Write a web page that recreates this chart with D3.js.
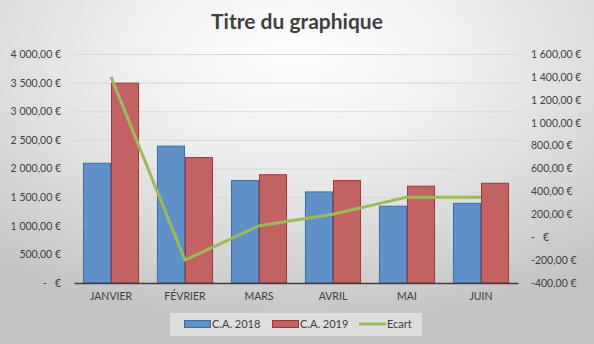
<!DOCTYPE html>
<html><head><meta charset="utf-8">
<script src="https://cdn.jsdelivr.net/npm/d3@7"></script>
<style>html,body{margin:0;padding:0;overflow:hidden;}svg{display:block;}</style>
</head><body>
<script>
const categories = ["JANVIER","FÉVRIER","MARS","AVRIL","MAI","JUIN"];
const series = ["C.A. 2018","C.A. 2019"];
const ca2018 = [2100,2400,1800,1600,1350,1400];
const ca2019 = [3500,2200,1900,1800,1700,1750];
const ecart = [1400,-200,100,200,350,350];
const leftTicks = [0,500,1000,1500,2000,2500,3000,3500,4000];
const rightTicks = [-400,-200,0,200,400,600,800,1000,1200,1400,1600];

(function(){
const W=594,H=344;
const svg=d3.select("body").append("svg").attr("width",W).attr("height",H);
const defs=svg.append("defs");
const rg=defs.append("radialGradient").attr("id","bg").attr("cx","50%").attr("cy","15%").attr("r","80%")
  .attr("gradientUnits","objectBoundingBox");
rg.append("stop").attr("offset","0%").attr("stop-color","#ffffff");
rg.append("stop").attr("offset","35%").attr("stop-color","#f0f0f0");
rg.append("stop").attr("offset","100%").attr("stop-color","#c4c4c4");
svg.append("rect").attr("width",W).attr("height",H).attr("fill","url(#bg)");

const font="Lato, 'Open Sans', sans-serif";
const textCol="#404040";
const pL=74,pR=518,pT=54,pB=283;

const x=d3.scaleBand().domain(categories).range([pL,pR]).padding(0);
const xs=d3.scaleBand().domain(series).range([0,x.bandwidth()]).paddingInner(0).paddingOuter(0.32);
const yL=d3.scaleLinear().domain([0,4000]).range([pB,pT]);
const yR=d3.scaleLinear().domain([-400,1600]).range([pB,pT]);

svg.append("text").attr("x",W/2).attr("y",29).attr("text-anchor","middle")
  .attr("font-family",font).attr("font-weight","bold").attr("font-size",21).attr("fill",textCol)
  .text("Titre du graphique");

svg.append("g").selectAll("line").data(leftTicks.filter(d=>d>0)).join("line")
  .attr("x1",pL).attr("x2",pR).attr("y1",d=>yL(d)+0.5).attr("y2",d=>yL(d)+0.5)
  .attr("stroke","#d9d9d9").attr("stroke-width",1);

const fmt=v=>{
  if(v===0) return "-\u00a0\u00a0\u00a0€";
  const s=d3.format(",.2f")(Math.abs(v)).replace(/,/g," ").replace(".",",");
  return (v<0?"-":"")+s+"\u00a0€";
};

const gl=svg.append("g").attr("transform",`translate(${pL},0)`)
  .call(d3.axisLeft(yL).tickValues(leftTicks).tickSize(0).tickPadding(13).tickFormat(fmt));
gl.select(".domain").remove();
gl.selectAll("text").attr("font-family",font).attr("font-size",10.5).attr("fill",textCol);

const gr=svg.append("g").attr("transform",`translate(${pR},0)`)
  .call(d3.axisRight(yR).tickValues(rightTicks).tickSize(0).tickPadding(13).tickFormat(fmt));
gr.select(".domain").remove();
gr.selectAll("text").attr("font-family",font).attr("font-size",10.5).attr("fill",textCol);

const data=categories.map((c,i)=>({c,vals:[{s:series[0],v:ca2018[i]},{s:series[1],v:ca2019[i]}]}));
const fills={"C.A. 2018":"#6090c8","C.A. 2019":"#c36262"};
const strokes={"C.A. 2018":"#3c6ea8","C.A. 2019":"#a53836"};
svg.append("g").selectAll("g").data(data).join("g")
  .attr("transform",d=>`translate(${x(d.c)},0)`)
  .selectAll("rect").data(d=>d.vals).join("rect")
  .attr("x",d=>xs(d.s)+0.5).attr("width",xs.bandwidth()-1)
  .attr("y",d=>yL(d.v)+0.5).attr("height",d=>yL(0)-yL(d.v)-0.5)
  .attr("fill",d=>fills[d.s]).attr("stroke",d=>strokes[d.s]).attr("stroke-width",1);

const gx=svg.append("g").attr("transform",`translate(0,${pB})`)
  .call(d3.axisBottom(x).tickSize(0).tickPadding(10));
gx.select(".domain").attr("stroke","#404040").attr("stroke-width",1.5);
gx.selectAll("text").attr("font-family",font).attr("font-size",10.5).attr("fill",textCol);

const line=d3.line().x((d,i)=>x(categories[i])+x.bandwidth()/2).y(d=>yR(d));
svg.append("path").datum(ecart).attr("d",line).attr("fill","none")
  .attr("stroke","#9bbb59").attr("stroke-width",3).attr("stroke-linejoin","round");

const lg=svg.append("g");
lg.append("rect").attr("x",170).attr("y",313).attr("width",252).attr("height",23).attr("fill","#e4e4e4").attr("opacity",0.8);
const items=[{n:"C.A. 2018",t:"bar",x:184},{n:"C.A. 2019",t:"bar",x:272},{n:"Ecart",t:"line",x:359}];
items.forEach(it=>{
  if(it.t==="bar"){
    lg.append("rect").attr("x",it.x+0.5).attr("y",320.5).attr("width",26).attr("height",7)
      .attr("fill",fills[it.n]).attr("stroke",strokes[it.n]);
  } else {
    lg.append("line").attr("x1",it.x).attr("x2",it.x+27).attr("y1",324).attr("y2",324)
      .attr("stroke","#9bbb59").attr("stroke-width",3);
  }
  lg.append("text").attr("x",it.x+28).attr("y",328).attr("font-family",font).attr("font-size",11)
    .attr("fill",textCol).text(it.n);
});
})();
</script>
</body></html>
